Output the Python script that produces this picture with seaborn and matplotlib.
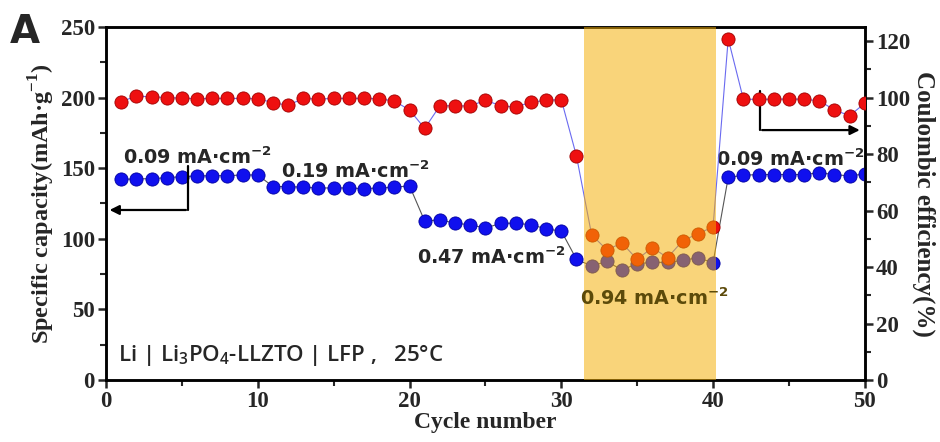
import numpy as np
import pandas as pd
import matplotlib
matplotlib.use("Agg")
import matplotlib.pyplot as plt
import seaborn as sns

cycles = list(range(1, 51))
capacity = [142.1, 142.4, 142.6, 143.3, 144.0, 144.5, 144.7, 144.7, 145.2, 145.2,
            137.0, 137.0, 136.5, 136.0, 136.0, 136.0, 135.5, 136.0, 136.5, 137.5,
            112.5, 113.5, 111.0, 110.0, 107.5, 111.0, 111.0, 110.0, 107.0, 105.5,
            85.5, 80.7, 84.0, 77.9, 82.4, 83.3, 83.3, 84.7, 86.6, 83.0,
            143.5, 145.0, 145.5, 145.5, 145.5, 145.5, 146.8, 145.5, 144.5, 146.0]
efficiency = [98.6, 100.5, 100.3, 100.0, 99.8, 99.6, 99.7, 99.7, 99.7, 99.6,
              98.2, 97.3, 99.7, 99.5, 99.7, 99.7, 99.7, 99.6, 98.8, 95.6,
              89.1, 97.1, 97.1, 97.0, 99.1, 97.1, 96.6, 98.4, 99.0, 99.3,
              79.3, 51.4, 46.1, 48.5, 42.7, 46.9, 43.3, 49.3, 51.8, 54.2,
              120.8, 99.4, 99.4, 99.4, 99.5, 99.4, 98.9, 95.6, 93.6, 98.0]

rate_labels = [r"0.09 mA·cm$^{\mathbf{-2}}$", r"0.19 mA·cm$^{\mathbf{-2}}$",
               r"0.47 mA·cm$^{\mathbf{-2}}$", r"0.94 mA·cm$^{\mathbf{-2}}$",
               r"0.09 mA·cm$^{\mathbf{-2}}$"]
cell_label = r"Li | Li$_{\mathsf{3}}$PO$_{\mathsf{4}}$-LLZTO | LFP ,   25°C"

df = pd.DataFrame({"cycle": cycles, "capacity": capacity, "ce": efficiency})

sns.set_style("ticks")
plt.rcParams["font.family"] = ["Liberation Serif", "DejaVu Serif"]
plt.rcParams["mathtext.fontset"] = "custom"
plt.rcParams["mathtext.rm"] = "Liberation Serif:bold"
plt.rcParams["mathtext.bf"] = "DejaVu Sans:bold"
plt.rcParams["mathtext.sf"] = "Open Sans:semibold"

sans = ["DejaVu Sans", "Noto Sans CJK SC"]
label_font = ["Open Sans", "Noto Sans CJK SC", "DejaVu Sans"]

fig = plt.figure(figsize=(9.4, 4.42), dpi=100)
ax = fig.add_axes([0.1128, 0.1403, 0.8072, 0.7986])
ax2 = ax.twinx()

# capacity (left axis)
sns.lineplot(data=df, x="cycle", y="capacity", ax=ax, color="#555555", lw=0.8, zorder=2)
sns.scatterplot(data=df, x="cycle", y="capacity", ax=ax, color="#1010ee", s=90,
                edgecolor="#0000a0", linewidth=0.6, zorder=3)
# coulombic efficiency (right axis)
sns.lineplot(data=df, x="cycle", y="ce", ax=ax2, color="#6a6af0", lw=0.8, zorder=2)
sns.scatterplot(data=df, x="cycle", y="ce", ax=ax2, color="#ee1010", s=90,
                edgecolor="#a00000", linewidth=0.6, zorder=3)

ax2.axvspan(31.5, 40.2, color="#F5AE00", alpha=0.52, lw=0, zorder=10)

ax.set_xlim(0, 50)
ax.set_ylim(0, 250)
ax2.set_ylim(0, 125)
ax.set_xticks(np.arange(0, 51, 10))
ax.set_xticks(np.arange(5, 50, 10), minor=True)
ax.set_yticks(np.arange(0, 251, 50))
ax.set_yticks(np.arange(25, 250, 50), minor=True)
ax2.set_yticks(np.arange(0, 121, 20))
ax2.set_yticks(np.arange(10, 125, 20), minor=True)

for a in (ax, ax2):
    for s in a.spines.values():
        s.set_linewidth(1.8)
        s.set_color("black")
    a.tick_params(which="major", length=6, width=1.8, labelsize=16.5, direction="out", pad=2)
    a.tick_params(which="minor", length=4, width=1.5, direction="out")
    for lab in a.get_xticklabels() + a.get_yticklabels():
        lab.set_fontweight("bold")

ax.set_xlabel("Cycle number", fontsize=17, fontweight="bold", labelpad=0)
ax.set_ylabel(r"Specific capacity(mAh·g$^{\mathrm{-1}}$)", fontsize=17.5, fontweight="bold", labelpad=3)
ax2.set_ylabel("Coulombic efficiency(%)", fontsize=18, fontweight="bold", rotation=270, labelpad=18)

# rate annotations
ax.text(1.1, 158, rate_labels[0], family=sans, fontsize=13.8, fontweight="bold", va="center")
ax.text(11.5, 148, rate_labels[1], family=sans, fontsize=13.8, fontweight="bold", va="center")
ax2.text(20.5, 43.5, rate_labels[2], family=sans, fontsize=13.8, fontweight="bold", va="center")
ax2.text(31.2, 29, rate_labels[3], family=sans, fontsize=13.8, fontweight="bold", va="center",
         color="#5C4A0A", zorder=11)
ax.text(40.2, 156, rate_labels[4], family=sans, fontsize=13.8, fontweight="bold", va="center")
ax.text(0.8, 18, cell_label, family=label_font, fontsize=16, fontweight="semibold", va="center")

# axis-pointing arrows
ax.plot([5.4, 5.4], [151.7, 120.4], color="black", lw=1.6, zorder=4)
ax.annotate("", xy=(0.05, 120.4), xytext=(5.45, 120.4),
            arrowprops=dict(arrowstyle="-|>", color="black", lw=1.6, mutation_scale=14), zorder=4)
ax.plot([43.1, 43.1], [205, 177], color="black", lw=1.6, zorder=4)
ax.annotate("", xy=(49.85, 177), xytext=(43.05, 177),
            arrowprops=dict(arrowstyle="-|>", color="black", lw=1.6, mutation_scale=14), zorder=4)

fig.text(0.010, 0.97, "A", family=sans, fontsize=28, fontweight="bold", va="top")

fig.savefig("out.png", dpi=100)
